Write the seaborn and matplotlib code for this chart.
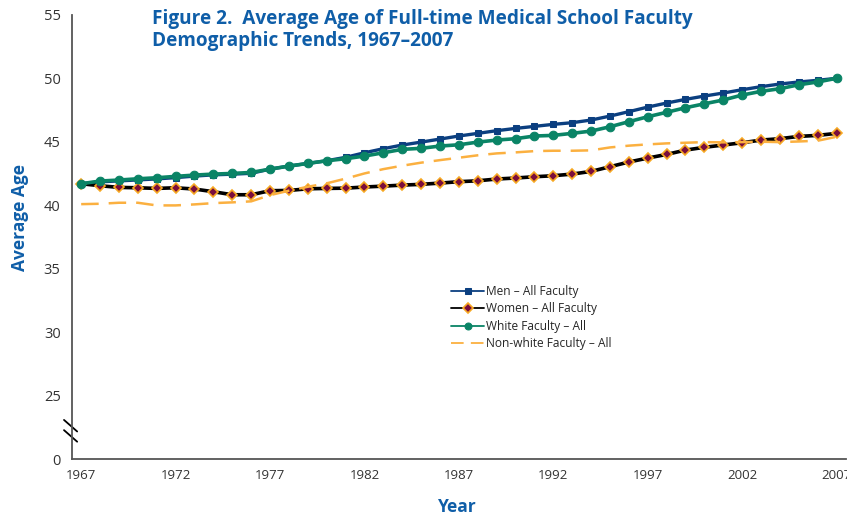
import pandas as pd
import matplotlib
matplotlib.use("Agg")
import matplotlib.pyplot as plt
import seaborn as sns

# values (average age by year)
years = list(range(1967, 2008))

men = [41.70, 41.85, 41.92, 42.00, 42.08, 42.18, 42.30, 42.40, 42.45, 42.52, 42.85, 43.09, 43.30, 43.51,
       43.78, 44.14, 44.46, 44.75, 44.98, 45.22, 45.46, 45.67, 45.88, 46.06, 46.22, 46.38, 46.51, 46.72,
       47.03, 47.38, 47.74, 48.06, 48.35, 48.61, 48.85, 49.11, 49.35, 49.56, 49.72, 49.85, 50.01]

women = [41.70, 41.54, 41.41, 41.38, 41.33, 41.38, 41.28, 41.07, 40.83, 40.83, 41.15, 41.17, 41.30, 41.33,
         41.35, 41.44, 41.51, 41.59, 41.65, 41.75, 41.86, 41.93, 42.07, 42.15, 42.25, 42.33, 42.46, 42.67,
         43.04, 43.41, 43.72, 44.01, 44.35, 44.57, 44.75, 44.93, 45.14, 45.25, 45.43, 45.51, 45.67]

white = [41.70, 41.91, 41.99, 42.09, 42.17, 42.28, 42.38, 42.46, 42.51, 42.59, 42.85, 43.09, 43.30, 43.51,
         43.67, 43.88, 44.14, 44.41, 44.49, 44.67, 44.77, 44.98, 45.14, 45.25, 45.46, 45.51, 45.67, 45.85,
         46.19, 46.59, 46.98, 47.33, 47.69, 48.00, 48.30, 48.69, 48.98, 49.19, 49.50, 49.72, 50.01]

nonwhite = [40.09, 40.12, 40.20, 40.20, 39.99, 39.99, 40.07, 40.17, 40.23, 40.31, 40.80, 41.15, 41.46, 41.73,
            42.10, 42.51, 42.85, 43.12, 43.36, 43.56, 43.75, 43.94, 44.09, 44.17, 44.27, 44.30, 44.30, 44.33,
            44.56, 44.70, 44.80, 44.88, 44.93, 44.98, 44.96, 44.98, 45.01, 44.98, 45.03, 45.09, 45.40]

series_names = ["Men \u2013 All Faculty", "Women \u2013 All Faculty",
                "White Faculty \u2013 All", "Non-white Faculty \u2013 All"]

# y axis is broken: the bottom tick (drawn at 20) is labelled 0
ytick_values = [20, 25, 30, 35, 40, 45, 50, 55]
ytick_labels = ["0", "25", "30", "35", "40", "45", "50", "55"]
xtick_years = [1967, 1972, 1977, 1982, 1987, 1992, 1997, 2002, 2007]

df = pd.DataFrame({"Year": years, series_names[0]: men, series_names[1]: women,
                   series_names[2]: white, series_names[3]: nonwhite})

sns.set_style("white")
plt.rcParams['font.family'] = ['Open Sans', 'DejaVu Sans']

blue_txt = '#0f5ea8'
axis_gray = '#555555'

fig = plt.figure(figsize=(8.47, 5.19), dpi=100)
ax = fig.add_axes([0.0847, 0.1156, 0.9141, 0.8555])

sns.lineplot(data=df, x="Year", y=series_names[0], ax=ax, color='#0b3f80', lw=2.4,
             marker='s', ms=4.8, mec='#0b3f80', label=series_names[0])
sns.lineplot(data=df, x="Year", y=series_names[1], ax=ax, color='black', lw=2.6,
             marker='D', ms=5.2, mfc='#7a0d3d', mec='#f7a823', mew=1.2, label=series_names[1])
sns.lineplot(data=df, x="Year", y=series_names[2], ax=ax, color='#0a8466', lw=2.6,
             marker='o', ms=6.2, mec='#0a8466', label=series_names[2])
sns.lineplot(data=df, x="Year", y=series_names[3], ax=ax, color='#fbb040', lw=1.8,
             linestyle=(0, (7, 4)), label=series_names[3])

ax.set_xlim(1966.5, 2007.5)
ax.set_ylim(20, 55)
ax.set_yticks(ytick_values)
ax.set_yticklabels(ytick_labels)
ax.set_xticks(xtick_years)
ax.set_xticklabels([str(y) for y in xtick_years])
ax.set_xticks([y - 0.5 for y in years] + [2007.5], minor=True)

ax.tick_params(axis='x', which='major', length=0, pad=7, labelsize=9.5, labelcolor='#333333')
ax.tick_params(axis='x', which='minor', length=5, width=1.1, color=axis_gray, direction='out')
ax.tick_params(axis='y', which='major', length=4, width=1.1, color=axis_gray, direction='out',
               pad=4, labelsize=10.5, labelcolor='#333333')

sns.despine(ax=ax)
for side in ['left', 'bottom']:
    ax.spines[side].set_color(axis_gray)
    ax.spines[side].set_linewidth(1.3)

# break marks on the y axis
for yb in [0.075, 0.052]:
    ax.plot([-0.010, 0.007], [yb + 0.013, yb - 0.013], transform=ax.transAxes,
            color='black', lw=1.3, clip_on=False)

ax.set_ylabel("Average Age", fontsize=12.5, fontweight='bold', color=blue_txt)
ax.yaxis.set_label_coords(-0.055, 0.543)
ax.set_xlabel("Year", fontsize=12.5, fontweight='bold', color=blue_txt)
ax.xaxis.set_label_coords(0.498, -0.088)

fig.text(0.1795, 0.982, "Figure 2.  Average Age of Full-time Medical School Faculty\nDemographic Trends, 1967\u20132007",
         ha='left', va='top', fontsize=13.7, fontweight='bold', color=blue_txt, linespacing=1.1)

leg = ax.legend(loc='upper left', bbox_to_anchor=(0.482, 0.405), frameon=False, fontsize=8.6,
                handlelength=2.8, handletextpad=0.15, labelspacing=0.36, borderpad=0)
# legend keys are thinner than the plotted lines
for h, ms in zip(leg.get_lines(), [4.5, 5.0, 5.0, 0]):
    h.set_linewidth(1.3)
    h.set_markersize(ms)

fig.savefig("out.png", dpi=100)
